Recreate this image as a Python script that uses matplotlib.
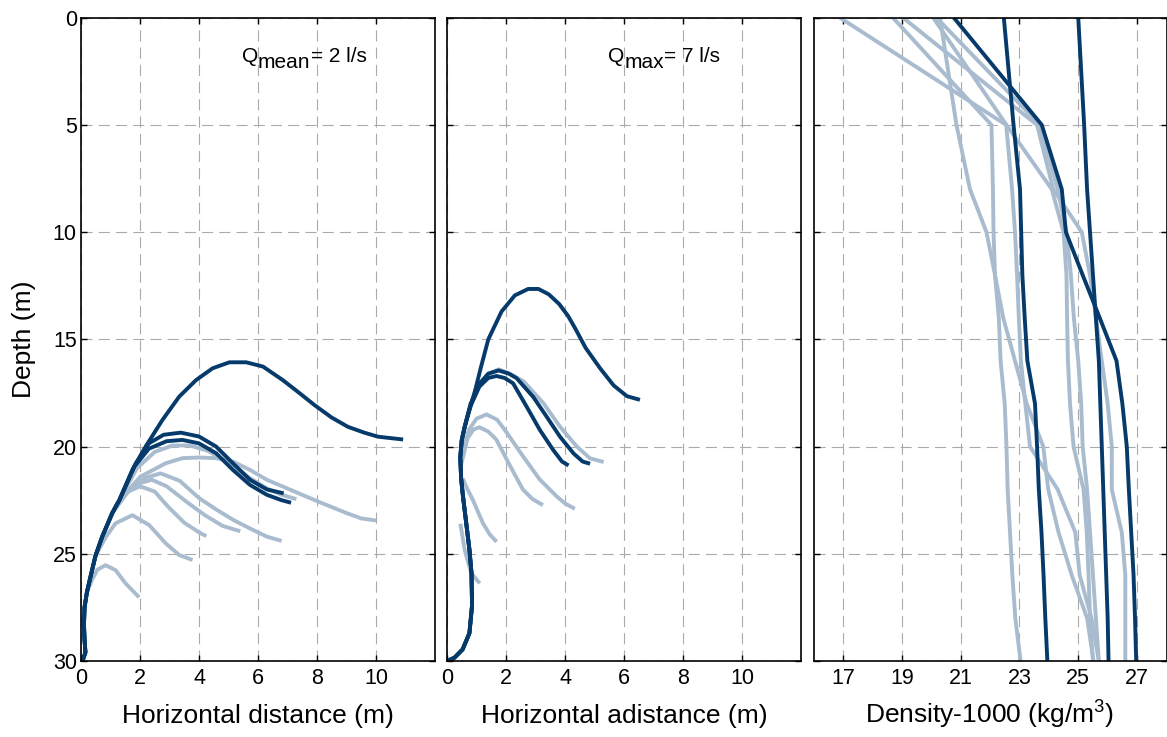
import matplotlib
matplotlib.use("Agg")
import matplotlib.pyplot as plt

plt.rcParams["font.family"] = ["Liberation Sans", "DejaVu Sans"]

DARK = "#053a6b"
LIGHT = "#a9bccf"

# ---------------- Panel 1: plume trajectories, Q mean = 2 l/s ----------------
# shared rising stem near the outfall (x, depth)
mean_stem_x = [0.05, 0.15, 0.12, 0.10, 0.12, 0.20, 0.30, 0.49, 0.72, 1.06, 1.30]
mean_stem_z = [30.0, 29.6, 29.0, 28.3, 27.5, 26.8, 26.2, 25.1, 24.2, 23.1, 22.5]

mean_dark1_x = [1.74, 2.19, 2.76, 3.33, 3.90, 4.46, 5.03, 5.60, 6.17, 6.84, 7.40, 7.91, 8.50, 9.05, 9.60, 10.07, 10.92]
mean_dark1_z = [21.09, 20.00, 18.76, 17.67, 16.90, 16.35, 16.07, 16.07, 16.27, 16.90, 17.50, 18.06, 18.65, 19.08, 19.35, 19.54, 19.67]
mean_dark2_x = [1.85, 2.30, 2.80, 3.38, 4.00, 4.58, 5.15, 5.73, 6.30, 6.87]
mean_dark2_z = [20.80, 19.85, 19.45, 19.35, 19.53, 20.00, 20.78, 21.55, 22.00, 22.18]
mean_dark3_x = [1.80, 2.30, 2.90, 3.44, 4.00, 4.58, 5.15, 5.73, 6.30, 6.80, 7.12]
mean_dark3_z = [20.95, 20.10, 19.75, 19.69, 19.85, 20.31, 21.09, 21.79, 22.25, 22.50, 22.62]

mean_light0_x = [1.30, 1.90, 2.50, 3.10, 3.70, 4.30, 5.00, 5.70, 6.30, 6.80, 7.30]
mean_light0_z = [22.50, 21.00, 20.25, 19.95, 19.95, 20.20, 20.75, 21.45, 21.95, 22.25, 22.45]
mean_light1_x = [1.30, 2.02, 2.87, 3.44, 4.00, 4.58, 5.15, 5.73, 6.30, 6.85, 7.50, 8.10, 9.00, 9.50, 10.00]
mean_light1_z = [22.50, 21.40, 20.78, 20.54, 20.51, 20.54, 20.70, 21.09, 21.55, 21.87, 22.25, 22.60, 23.10, 23.35, 23.45]
mean_light2_x = [1.06, 1.60, 2.20, 2.70, 3.35, 4.00, 4.60, 5.20, 5.70, 6.30, 6.80]
mean_light2_z = [23.10, 22.10, 21.45, 21.25, 21.60, 22.40, 22.95, 23.45, 23.80, 24.20, 24.40]
mean_light3_x = [1.06, 1.50, 2.00, 2.40, 2.90, 3.60, 4.20, 4.80, 5.40]
mean_light3_z = [23.10, 22.20, 21.70, 21.55, 21.85, 22.60, 23.20, 23.70, 23.95]
mean_light4_x = [0.72, 1.20, 1.60, 2.00, 2.50, 2.95, 3.50, 4.00, 4.25]
mean_light4_z = [24.20, 22.70, 22.10, 21.85, 22.10, 22.80, 23.55, 24.00, 24.18]
mean_light5_x = [0.49, 0.85, 1.17, 1.74, 2.31, 2.87, 3.33, 3.78]
mean_light5_z = [25.10, 24.20, 23.58, 23.20, 23.66, 24.51, 25.06, 25.29]
mean_light6_x = [0.20, 0.37, 0.55, 0.83, 1.17, 1.51, 1.97]
mean_light6_z = [26.80, 26.23, 25.75, 25.53, 25.76, 26.38, 27.03]

# ---------------- Panel 2: plume trajectories, Q max = 7 l/s ----------------
max_stem_x = [0.00, 0.25, 0.53, 0.76, 0.85, 0.83, 0.76, 0.65, 0.54, 0.48, 0.45, 0.50, 0.60]
max_stem_z = [30.0, 29.85, 29.46, 28.70, 27.40, 25.90, 24.80, 23.55, 22.30, 21.50, 20.50, 19.70, 19.08]

max_dark1_x = [0.66, 0.95, 1.15, 1.40, 1.85, 2.30, 2.75, 3.10, 3.45, 3.80, 4.10, 4.35, 4.70, 5.19, 5.65, 6.10, 6.54]
max_dark1_z = [18.76, 17.40, 16.30, 15.00, 13.70, 12.95, 12.65, 12.65, 12.90, 13.35, 13.90, 14.50, 15.40, 16.35, 17.15, 17.65, 17.82]
max_dark2_x = [0.80, 1.11, 1.40, 1.75, 2.10, 2.36, 2.92, 3.38, 3.83, 4.29, 4.60, 4.85]
max_dark2_z = [18.00, 17.05, 16.60, 16.45, 16.60, 16.81, 17.68, 18.61, 19.54, 20.32, 20.70, 20.80]
max_dark3_x = [0.80, 1.10, 1.40, 1.68, 1.95, 2.24, 2.70, 3.15, 3.60, 3.90, 4.12]
max_dark3_z = [18.10, 17.20, 16.80, 16.71, 16.80, 17.05, 18.14, 19.23, 20.16, 20.70, 20.88]

max_light1_x = [0.50, 0.75, 1.05, 1.40, 1.75, 2.05, 2.59, 3.27, 3.83, 4.40, 4.85, 5.31]
max_light1_z = [19.70, 18.30, 17.20, 16.60, 16.40, 16.55, 16.95, 17.98, 19.07, 20.00, 20.55, 20.72]
max_light2_x = [0.50, 0.75, 1.00, 1.34, 1.70, 2.00, 2.57, 3.14, 3.71, 4.00, 4.33]
max_light2_z = [20.30, 19.20, 18.70, 18.50, 18.75, 19.30, 20.44, 21.53, 22.31, 22.65, 22.90]
max_light3_x = [0.47, 0.70, 0.90, 1.10, 1.40, 1.67, 2.12, 2.57, 2.90, 3.25]
max_light3_z = [20.90, 19.60, 19.20, 19.10, 19.30, 19.67, 20.85, 22.00, 22.45, 22.73]
max_light4_x = [0.55, 0.60, 0.88, 1.22, 1.45, 1.68]
max_light4_z = [21.50, 21.72, 22.50, 23.58, 24.10, 24.44]
max_light5_x = [0.45, 0.49, 0.60, 0.83, 1.11]
max_light5_z = [23.60, 23.90, 24.83, 25.92, 26.38]

# ---------------- Panel 3: density profiles (sigma, kg/m3) ----------------
cast_depth = [0, 5, 8, 10, 12, 14, 16, 18, 20, 22, 24, 26, 28, 30]

dens_dark1 = [20.77, 23.76, 24.44, 24.58, 25.15, 25.73, 26.30, 26.50, 26.65, 26.72, 26.80, 26.88, 26.93, 26.97]
dens_dark2 = [22.47, 22.80, 23.02, 23.06, 23.10, 23.18, 23.27, 23.53, 23.60, 23.66, 23.75, 23.82, 23.88, 23.95]
dens_dark3 = [25.00, 25.20, 25.30, 25.40, 25.50, 25.60, 25.70, 25.75, 25.80, 25.85, 25.90, 25.95, 26.00, 26.03]

dens_light1 = [16.90, 22.55, 22.75, 22.85, 22.92, 22.98, 23.05, 23.20, 23.36, 24.30, 24.90, 25.05, 25.45, 25.70]
dens_light2 = [20.30, 20.86, 21.32, 21.88, 22.17, 22.45, 22.85, 23.25, 23.81, 23.98, 24.33, 24.78, 25.30, 25.52]
dens_light3 = [18.70, 22.05, 22.10, 22.12, 22.17, 22.30, 22.36, 22.50, 22.56, 22.60, 22.68, 22.76, 22.86, 23.04]
dens_light4 = [19.04, 23.60, 24.15, 25.12, 25.40, 25.60, 25.80, 26.00, 26.14, 26.14, 26.48, 26.60, 26.60, 26.60]
dens_light5 = [20.07, 22.56, 24.10, 24.50, 24.60, 24.62, 24.65, 24.72, 24.84, 25.18, 25.29, 25.35, 25.40, 25.50]
dens_light6 = [20.18, 23.70, 24.30, 24.60, 24.75, 24.85, 25.00, 25.10, 25.15, 25.30, 25.40, 25.50, 25.60, 25.70]

dist_ticks = [0, 2, 4, 6, 8, 10]
dens_ticks = [17, 19, 21, 23, 25, 27]
depth_ticks = [0, 5, 10, 15, 20, 25, 30]

LW = 2.8
TICK_FS = 15.5
Q_FS = 15
LABEL_FS = 19

fig = plt.figure(figsize=(11.67, 7.37), dpi=100)
W, H = 1167.0, 737.0
bottom = (H - 661.0) / H
height = (661.0 - 17.7) / H
ax1 = fig.add_axes([81.0 / W, bottom, 354.0 / W, height])
ax2 = fig.add_axes([447.0 / W, bottom, 354.0 / W, height])
ax3 = fig.add_axes([813.5 / W, bottom, 353.0 / W, height])


def style(ax, xlim, xticks, ylabels):
    ax.set_xlim(*xlim)
    ax.set_ylim(30, 0)
    ax.set_xticks(xticks)
    ax.set_yticks(depth_ticks)
    if not ylabels:
        ax.set_yticklabels([])
    ax.grid(True, color="#aaaaaa", linestyle=(0, (10, 5.5)), linewidth=0.8)
    ax.set_axisbelow(True)
    ax.tick_params(direction="in", top=True, right=True, length=4, width=1.0,
                   labelsize=TICK_FS, colors="black")
    ax.tick_params(axis="x", pad=5)
    ax.tick_params(axis="y", pad=3)
    for s in ax.spines.values():
        s.set_linewidth(1.2)
        s.set_color("black")


def curve(ax, stem_x, stem_z, xs, zs, color):
    ax.plot(list(stem_x) + list(xs), list(stem_z) + list(zs), color=color,
            lw=LW, solid_capstyle="butt", solid_joinstyle="round")


# Panel 1
for xs, zs in [(mean_light0_x, mean_light0_z), (mean_light1_x, mean_light1_z),
               (mean_light2_x, mean_light2_z), (mean_light3_x, mean_light3_z),
               (mean_light4_x, mean_light4_z), (mean_light5_x, mean_light5_z),
               (mean_light6_x, mean_light6_z)]:
    ax1.plot(xs, zs, color=LIGHT, lw=LW, solid_capstyle="butt", solid_joinstyle="round")
for xs, zs in [(mean_dark1_x, mean_dark1_z), (mean_dark2_x, mean_dark2_z),
               (mean_dark3_x, mean_dark3_z)]:
    curve(ax1, mean_stem_x, mean_stem_z, xs, zs, DARK)

# Panel 2
for xs, zs in [(max_light1_x, max_light1_z), (max_light2_x, max_light2_z),
               (max_light3_x, max_light3_z), (max_light4_x, max_light4_z),
               (max_light5_x, max_light5_z)]:
    ax2.plot(xs, zs, color=LIGHT, lw=LW, solid_capstyle="butt", solid_joinstyle="round")
for xs, zs in [(max_dark1_x, max_dark1_z), (max_dark2_x, max_dark2_z),
               (max_dark3_x, max_dark3_z)]:
    curve(ax2, max_stem_x, max_stem_z, xs, zs, DARK)

# Panel 3
for prof in [dens_light1, dens_light2, dens_light3, dens_light4, dens_light5, dens_light6]:
    ax3.plot(prof, cast_depth, color=LIGHT, lw=LW, solid_capstyle="butt")
for prof in [dens_dark1, dens_dark2, dens_dark3]:
    ax3.plot(prof, cast_depth, color=DARK, lw=LW, solid_capstyle="butt")

style(ax1, (0, 12), dist_ticks, True)
style(ax2, (0, 12), dist_ticks, False)
style(ax3, (16, 28), dens_ticks, False)


def q_label(ax, x, z, sub, rest):
    t1 = ax.text(x, z, "Q", fontsize=Q_FS, va="baseline", ha="left")
    t2 = ax.annotate(sub, xy=(1, 0), xycoords=t1, xytext=(0, -4.5),
                     textcoords="offset points", fontsize=Q_FS,
                     va="bottom", ha="left")
    ax.annotate(rest, xy=(1, 0), xycoords=t2, xytext=(0, 4.5),
                textcoords="offset points", fontsize=Q_FS,
                va="bottom", ha="left")


q_label(ax1, 5.45, 2.06, "mean", "= 2 l/s")
q_label(ax2, 5.46, 2.06, "max", "= 7 l/s")

base = 1 - 723.0 / H
fig.text((81 + 435) / 2 / W, base, "Horizontal distance (m)", fontsize=LABEL_FS,
         ha="center", va="baseline")
fig.text((447 + 801) / 2 / W, base, "Horizontal adistance (m)", fontsize=LABEL_FS,
         ha="center", va="baseline")
fig.text((813.5 + 1166.5) / 2 / W, base, r"Density-1000 (kg/m$^\mathregular{3}$)",
         fontsize=LABEL_FS, ha="center", va="baseline")
fig.text(24 / W, 1 - 339 / H, "Depth (m)", fontsize=LABEL_FS, rotation=90,
         ha="center", va="center")

fig.savefig("out.png", dpi=100, facecolor="white")
